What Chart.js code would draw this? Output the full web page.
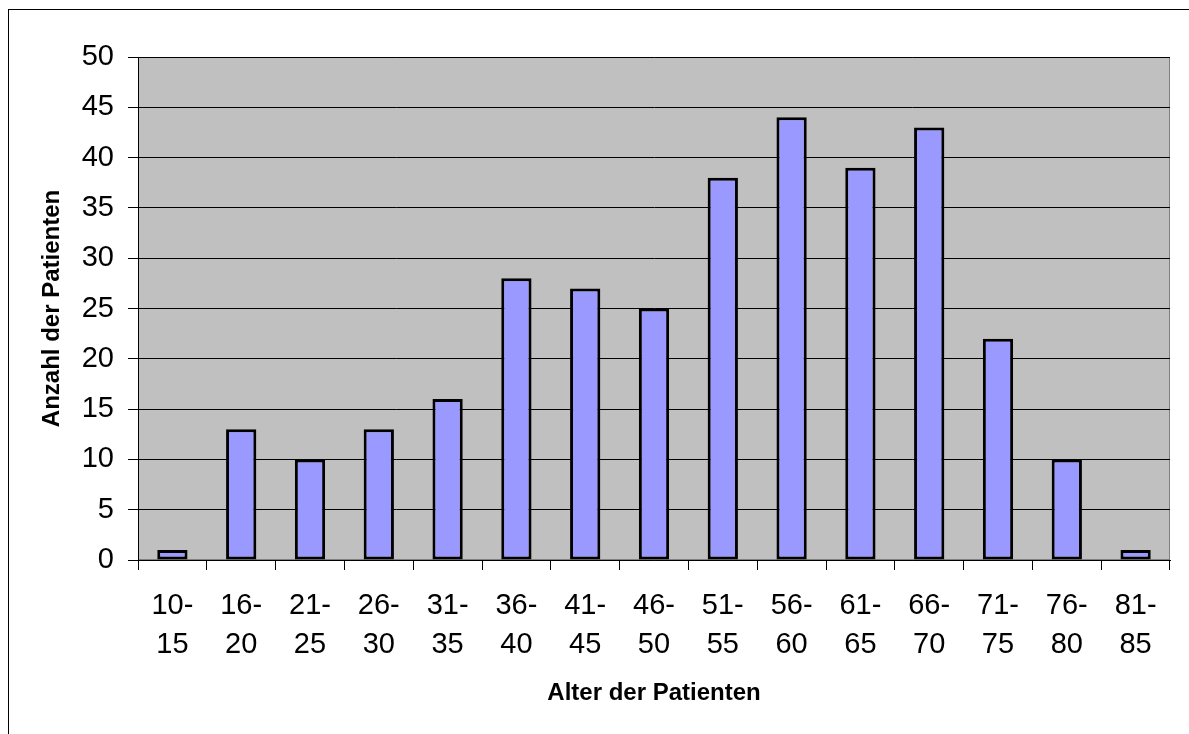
<!DOCTYPE html>
<html>
<head>
<meta charset="utf-8">
<script src="https://cdn.jsdelivr.net/npm/chart.js@4"></script>
<style>
  html, body { margin: 0; padding: 0; background: #fff; overflow: hidden; }
  #wrap { position: relative; width: 1189px; height: 734px; }
  #frame { position: absolute; left: 8px; top: 9px; right: -5px; bottom: -5px; border: 1px solid #000; }
  canvas { position: absolute; left: 0; top: 0; }
</style>
</head>
<body>
<div id="wrap">
  <div id="frame"></div>
  <canvas id="ageChart" width="1189" height="734"></canvas>
</div>
<script>
// Altersgruppen und Anzahl der Patienten
const ageGroups = [
    ['10-', '15'], ['16-', '20'], ['21-', '25'], ['26-', '30'], ['31-', '35'],
    ['36-', '40'], ['41-', '45'], ['46-', '50'], ['51-', '55'], ['56-', '60'],
    ['61-', '65'], ['66-', '70'], ['71-', '75'], ['76-', '80'], ['81-', '85']
];
const patientCounts = [1, 13, 10, 13, 16, 28, 27, 25, 38, 44, 39, 43, 22, 10, 1];
const yMin = 0;
const yMax = 50;
const yStep = 5;

const fontFamily = '"Liberation Sans", Arial, sans-serif';

// grey plot background with a thin grey frame (Excel style)
const plotBackground = {
    id: 'plotBackground',
    beforeDraw(chart) {
        const { ctx, chartArea: a } = chart;
        ctx.save();
        ctx.fillStyle = '#c0c0c0';
        ctx.fillRect(a.left, a.top, a.right - a.left, a.bottom - a.top);
        ctx.strokeStyle = '#808080';
        ctx.lineWidth = 1;
        ctx.strokeRect(a.left + 0.5, a.top + 0.5, a.right - a.left - 1, a.bottom - a.top - 1);
        ctx.restore();
    }
};

const ctx = document.getElementById('ageChart').getContext('2d');
const ageChart = new Chart(ctx, {
    type: 'bar',
    data: {
        labels: ageGroups,
        datasets: [{
            label: 'Anzahl der Patienten',
            data: patientCounts,
            backgroundColor: '#9999ff',
            borderColor: '#000000',
            borderWidth: 3,
            borderSkipped: false,
            barPercentage: 0.44,
            categoryPercentage: 1.0
        }]
    },
    options: {
        responsive: false,
        animation: false,
        layout: {
            padding: { left: 0, top: 57, right: 19, bottom: 0 }
        },
        plugins: {
            legend: { display: false },
            tooltip: { enabled: false }
        },
        scales: {
            x: {
                grid: {
                    display: true,
                    drawOnChartArea: false,
                    color: '#000',
                    tickLength: 10,
                    offset: true
                },
                border: { color: '#000', width: 1 },
                ticks: {
                    color: '#000',
                    font: { family: fontFamily, size: 29, lineHeight: 1.36 },
                    padding: 16,
                    autoSkip: false,
                    maxRotation: 0,
                    minRotation: 0
                },
                title: {
                    display: true,
                    text: 'Alter der Patienten',
                    color: '#000',
                    font: { family: fontFamily, size: 24, weight: 'bold' },
                    padding: { top: 0, bottom: 26 }
                },
                afterFit(scale) { scale.height = 174; }
            },
            y: {
                min: yMin,
                max: yMax,
                ticks: {
                    stepSize: yStep,
                    color: '#000',
                    font: { family: fontFamily, size: 29 },
                    padding: 14
                },
                grid: {
                    color: '#000',
                    tickLength: 10
                },
                border: { color: '#000', width: 1 },
                title: {
                    display: true,
                    text: 'Anzahl der Patienten',
                    color: '#000',
                    font: { family: fontFamily, size: 24, weight: 'bold' },
                    padding: { top: 38, bottom: 0 }
                },
                afterFit(scale) { scale.width = 138; }
            }
        }
    },
    plugins: [plotBackground]
});
</script>
</body>
</html>
